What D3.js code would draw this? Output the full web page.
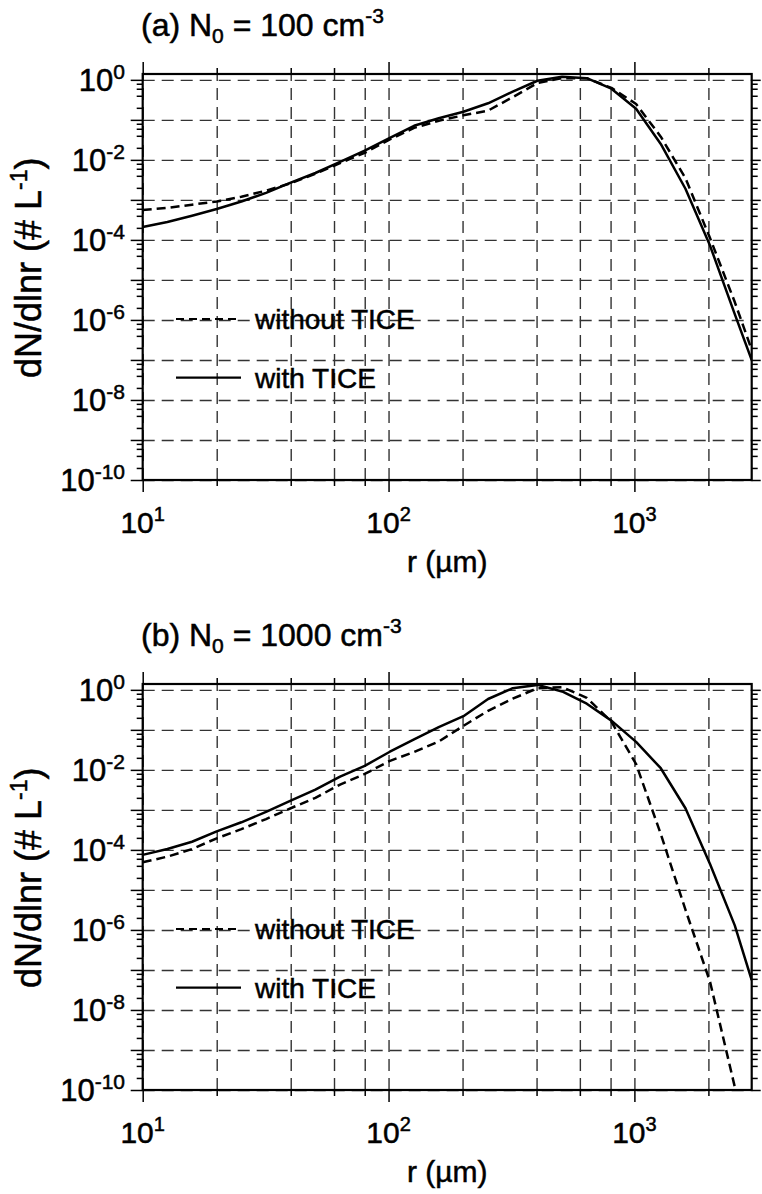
<!DOCTYPE html>
<html>
<head>
<meta charset="utf-8">
<title>dN/dlnr size distributions</title>
<script src="https://cdn.jsdelivr.net/npm/d3@7"></script>
<style>
  body { margin: 0; background: #fff; }
  svg { display: block; font-family: "Liberation Sans", Arial, Helvetica, sans-serif; }
  svg text { stroke: #000; stroke-width: 0.5px; }
</style>
</head>
<body>
<svg id="chart" width="762" height="1194"></svg>
<script>
// bin radii (um), mass-doubling bins, last point at the right edge
var radius = [10, 12.6, 15.87, 20, 25.2, 31.75, 40, 50.4, 63.5, 80, 100.8, 127, 160, 201.6,
              254, 320, 403.2, 508, 640, 806.3, 1016, 1280, 1613, 2032, 2560, 3000];

// (a) N0 = 100 cm-3
var aWithout = [5.6e-4, 6.3e-4, 7.6e-4, 9.1e-4, 1.2e-3, 1.7e-3, 2.6e-3, 4.5e-3, 8.3e-3, 1.5e-2,
                3.2e-2, 6.3e-2, 9.5e-2, 0.13, 0.17, 0.37, 0.83, 1.1, 1.1, 0.63,
                0.25, 3.8e-2, 3.5e-3, 1.1e-4, 2.8e-6, 1.8e-7];
var aWith    = [2.1e-4, 2.8e-4, 4.0e-4, 5.9e-4, 9.1e-4, 1.5e-3, 2.7e-3, 4.7e-3, 8.9e-3, 1.7e-2,
                3.5e-2, 7.1e-2, 0.11, 0.16, 0.26, 0.51, 0.95, 1.2, 1.1, 0.60,
                0.19, 2.5e-2, 1.9e-3, 7.1e-5, 1.4e-6, 1.0e-7];

// (b) N0 = 1000 cm-3
var bWithout = [4.9e-5, 6.8e-5, 1.05e-4, 1.95e-4, 3.3e-4, 5.9e-4, 1.1e-3, 2.0e-3, 4.3e-3, 7.9e-3,
                1.66e-2, 2.8e-2, 5.1e-2, 0.126, 0.30, 0.60, 1.1, 1.17, 0.63, 0.16,
                1.4e-2, 2.5e-4, 3.2e-6, 5.0e-8, 1.2e-10, null];
var bWith    = [7.5e-5, 1.05e-4, 1.6e-4, 2.9e-4, 4.9e-4, 8.9e-4, 1.7e-3, 3.2e-3, 6.8e-3, 1.26e-2,
                2.8e-2, 5.8e-2, 0.117, 0.22, 0.59, 1.1, 1.33, 0.91, 0.45, 0.17,
                5.0e-2, 1.1e-2, 1.1e-3, 4.4e-5, 1.3e-6, 5.6e-8];

var panelTags = ["(a)", "(b)"];
var panelN0 = ["100", "1000"];
var xDecades = [1, 2, 3];                 // x labels 10^1 .. 10^3
var yDecades = [0, -1, -2, -3, -4, -5, -6, -7, -8, -9, -10];
var yLabelExps = [0, -2, -4, -6, -8, -10];
var minorMult = [2, 4, 6, 8];
var legendNames = ["without TICE", "with TICE"];

var svg = d3.select("#chart");

var left = 142.7, right = 751.7, plotH = 406;
var panelTop = [74, 684];

var x = d3.scaleLog().domain([10, 3000]).range([left, right]);

var xMajor = xDecades.map(function (e) { return Math.pow(10, e); });
var xMinor = [];
xMajor.forEach(function (d) {
  minorMult.forEach(function (m) { if (d * m <= 3000) xMinor.push(d * m); });
});
var yMajor = yDecades.map(function (e) { return Math.pow(10, e); });
var yMinor = [];
yMajor.forEach(function (d) {
  minorMult.forEach(function (m) { if (d * m < 1.4) yMinor.push(d * m); });
});

function supText(sel, base, sup, baseSize, supSize, rise) {
  sel.append("tspan").attr("font-size", baseSize).text(base);
  sel.append("tspan").attr("font-size", supSize).attr("dy", -rise).text(sup);
}

function drawPanel(i, withoutVals, withVals) {
  var top = panelTop[i];
  var bottom = top + plotH;
  var y = d3.scaleLog().domain([1e-10, 1.4]).range([bottom, top]);
  var g = svg.append("g");

  g.append("clipPath").attr("id", "clip" + i)
    .append("rect").attr("x", left).attr("y", top)
    .attr("width", right - left).attr("height", plotH);

  // grid
  var gridStyle = function (sel) {
    sel.select(".domain").remove();
    sel.selectAll(".tick line")
      .attr("stroke", "#333").attr("stroke-width", 1.4)
      .attr("stroke-dasharray", "12,7");
  };
  g.append("g").attr("transform", "translate(0," + bottom + ")")
    .call(d3.axisBottom(x).tickValues(xMinor.concat(xMajor)).tickSize(-plotH).tickFormat(""))
    .call(gridStyle);
  g.append("g").attr("transform", "translate(" + left + ",0)")
    .call(d3.axisLeft(y).tickValues(yMajor).tickSize(-(right - left)).tickFormat(""))
    .call(gridStyle);

  // curves
  var line = d3.line()
    .defined(function (d) { return d[1] != null; })
    .x(function (d) { return x(d[0]); })
    .y(function (d) { return y(d[1]); });
  var series = [withoutVals, withVals];
  series.forEach(function (vals, k) {
    g.append("path")
      .datum(radius.map(function (r, j) { return [r, vals[j]]; }))
      .attr("clip-path", "url(#clip" + i + ")")
      .attr("fill", "none").attr("stroke", "#000").attr("stroke-width", 2.5)
      .attr("stroke-linejoin", "round")
      .attr("stroke-dasharray", k === 0 ? "9,5" : null)
      .attr("d", line);
  });

  // ticks, pointing outward
  var tickStyle = function (sel) {
    sel.select(".domain").remove();
    sel.selectAll(".tick line").attr("stroke", "#000").attr("stroke-width", 1.5);
  };
  var axes = [
    [d3.axisLeft, "translate(" + left + ",0)", y, yMajor, yMinor, 12, 6],
    [d3.axisRight, "translate(" + right + ",0)", y, yMajor, yMinor, 9, 6],
    [d3.axisTop, "translate(0," + top + ")", x, xMajor, xMinor, 12, 6],
    [d3.axisBottom, "translate(0," + bottom + ")", x, xMajor, xMinor, 12, 6]
  ];
  axes.forEach(function (a) {
    g.append("g").attr("transform", a[1])
      .call(a[0](a[2]).tickValues(a[3]).tickSize(a[5]).tickFormat("")).call(tickStyle);
    g.append("g").attr("transform", a[1])
      .call(a[0](a[2]).tickValues(a[4]).tickSize(a[6]).tickFormat("")).call(tickStyle);
  });

  // frame
  g.append("rect").attr("x", left).attr("y", top)
    .attr("width", right - left).attr("height", plotH)
    .attr("fill", "none").attr("stroke", "#000").attr("stroke-width", 2.2);

  // y tick labels
  yLabelExps.forEach(function (e) {
    var t = g.append("text").attr("x", 125).attr("y", y(Math.pow(10, e)) + 11)
      .attr("text-anchor", "end");
    supText(t, "10", String(e), 31, 21, 12);
  });

  // x tick labels
  xDecades.forEach(function (e) {
    var t = g.append("text").attr("x", x(Math.pow(10, e))).attr("y", bottom + 53)
      .attr("text-anchor", "middle");
    supText(t, "10", String(e), 30, 20, 12);
  });

  // axis titles
  g.append("text").attr("x", (left + right) / 2).attr("y", bottom + 92)
    .attr("text-anchor", "middle").attr("font-size", 30).text("r (\u00b5m)");
  var yt = g.append("text")
    .attr("transform", "translate(41," + (top + 304) + ") rotate(-90)")
    .attr("font-size", 36);
  yt.append("tspan").text("dN/dlnr (# L");
  yt.append("tspan").attr("font-size", 23).attr("dy", -14).text("-1");
  yt.append("tspan").attr("dy", 14).text(")");

  // panel title
  var tt = g.append("text").attr("x", 141).attr("y", top - 38).attr("font-size", 32);
  tt.append("tspan").text(panelTags[i] + " N");
  tt.append("tspan").attr("font-size", 21).attr("dy", 7).text("0");
  tt.append("tspan").attr("dy", -7).text(" = " + panelN0[i] + " cm");
  tt.append("tspan").attr("font-size", 21).attr("dy", -13).text("-3");

  // legend
  var legY = [top + 245, top + 303.7];
  legendNames.forEach(function (name, k) {
    g.append("line").attr("x1", 176).attr("x2", 241)
      .attr("y1", legY[k]).attr("y2", legY[k])
      .attr("stroke", "#000").attr("stroke-width", 2.2)
      .attr("stroke-dasharray", k === 0 ? "8,5" : null);
    g.append("text").attr("x", 255).attr("y", legY[k] + 10)
      .attr("font-size", 28).text(name);
  });
}

drawPanel(0, aWithout, aWith);
drawPanel(1, bWithout, bWith);
</script>
</body>
</html>
